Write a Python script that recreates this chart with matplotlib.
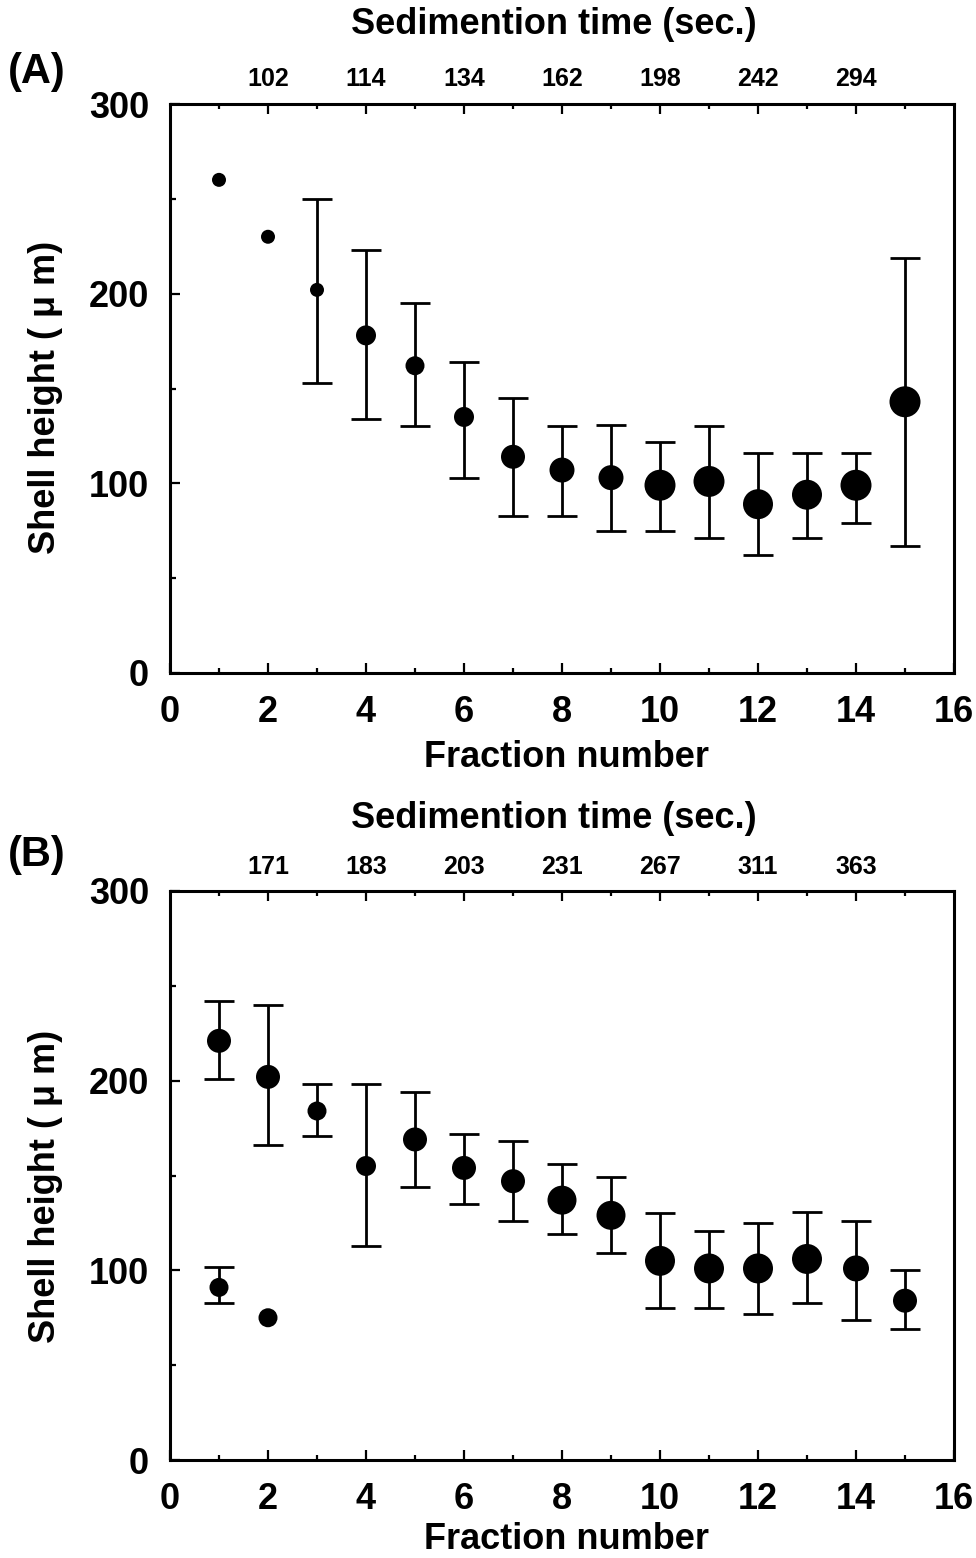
import matplotlib
matplotlib.use("Agg")
import matplotlib.pyplot as plt
import numpy as np
from matplotlib.ticker import FixedLocator, MultipleLocator

plt.rcParams['font.family'] = ['Liberation Sans', 'DejaVu Sans']
plt.rcParams['font.weight'] = 'bold'

# ---- data ----
FRACTIONS = list(range(1, 16))

# panel A
height_a = [260, 230, 202, 178, 162, 135, 114, 107, 103, 99, 101, 89, 94, 99, 143]
low_a = [np.nan, np.nan, 153, 134, 130, 103, 83, 83, 75, 75, 71, 62, 71, 79, 67]
high_a = [np.nan, np.nan, 250, 223, 195, 164, 145, 130, 131, 122, 130, 116, 116, 116, 219]
sed_time_a = ['102', '114', '134', '162', '198', '242', '294']

# panel B, main population
height_b = [221, 202, 184, 155, 169, 154, 147, 137, 129, 105, 101, 101, 106, 101, 84]
low_b = [201, 166, 171, 113, 144, 135, 126, 119, 109, 80, 80, 77, 83, 74, 69]
high_b = [242, 240, 198, 198, 194, 172, 168, 156, 149, 130, 121, 125, 131, 126, 100]
# panel B, second (small) population in fractions 1-2
frac_b2 = [1, 2]
height_b2 = [91, 75]
low_b2 = [83, np.nan]
high_b2 = [102, np.nan]
sed_time_b = ['171', '183', '203', '231', '267', '311', '363']

# marker diameters in pixels (style, varies per point)
dot_px_a = [14, 14, 14, 20, 19, 20, 24, 25, 25, 31, 31, 30, 30, 31, 31]
dot_px_b = [24, 24, 19, 20, 24, 24, 24, 29, 29, 30, 30, 30, 30, 26, 24]
dot_px_b2 = [19, 19]

DPI = 100
FS_BIG = 26
FS_TOP = 18


def plot_points(ax, x, y, lo, hi, dot_px):
    x = np.asarray(x, float)
    y = np.asarray(y, float)
    lo = np.asarray(lo, float)
    hi = np.asarray(hi, float)
    m = ~np.isnan(lo)
    ax.errorbar(x[m], y[m], yerr=[y[m] - lo[m], hi[m] - y[m]], fmt='none',
                ecolor='black', elinewidth=2.0, capsize=11, capthick=2.0, zorder=2)
    sizes = (np.asarray(dot_px) * 72 / DPI) ** 2
    ax.scatter(x, y, s=sizes, color='black', edgecolors='none', zorder=3)


def draw_panel(fig, rect, letter, letter_y, sed_labels, title_y, xlabel_y, ylabel_y, series):
    ax = fig.add_axes(rect)
    for s in series:
        plot_points(ax, *s)

    ax.set_xlim(0, 16)
    ax.set_ylim(0, 300)
    ax.xaxis.set_major_locator(MultipleLocator(2))
    ax.xaxis.set_minor_locator(MultipleLocator(1))
    ax.yaxis.set_major_locator(MultipleLocator(100))
    ax.yaxis.set_minor_locator(MultipleLocator(50))
    ax.tick_params(which='both', direction='in', top=False, right=False, width=1.6)
    ax.tick_params(axis='x', which='major', length=7.5, pad=16, labelsize=FS_BIG)
    ax.tick_params(axis='x', which='minor', length=3.5)
    ax.tick_params(axis='y', which='major', length=7.5, pad=15, labelsize=FS_BIG)
    ax.tick_params(axis='y', which='minor', length=4)
    for sp in ax.spines.values():
        sp.set_linewidth(2.2)

    ax.set_xlabel('Fraction number', fontsize=FS_BIG, fontweight='bold', va='center')
    ax.xaxis.set_label_coords(0.506, xlabel_y)
    ax.set_ylabel('Shell height ( μ m)', fontsize=FS_BIG, fontweight='bold', va='center')
    ax.yaxis.set_label_coords(-0.159, ylabel_y)

    top = ax.twiny()
    top.set_xlim(0, 16)
    top.xaxis.set_major_locator(FixedLocator(list(range(2, 15, 2))))
    top.xaxis.set_minor_locator(FixedLocator(list(range(1, 16, 2))))
    top.set_xticklabels(sed_labels)
    top.tick_params(which='both', direction='in', width=1.6)
    top.tick_params(which='major', length=7.5, pad=9, labelsize=FS_TOP)
    top.tick_params(which='minor', length=3.5)
    for sp in top.spines.values():
        sp.set_visible(False)
    top.set_xlabel('Sedimention time (sec.)', fontsize=FS_BIG, fontweight='bold', va='center')
    top.xaxis.set_label_coords(0.489, title_y)

    fig.text(8 / 976, letter_y, letter, fontsize=30, fontweight='bold',
             ha='left', va='center')
    return ax


fig = plt.figure(figsize=(9.76, 15.58), dpi=DPI)

W, H = 976, 1558
ax_w = 784 / W
ax_h = 569 / H

draw_panel(fig, [170 / W, 1 - 673 / H, ax_w, ax_h], '(A)', 1 - 72 / H, sed_time_a,
           1.139, -0.149, 0.485,
           [(FRACTIONS, height_a, low_a, high_a, dot_px_a)])

draw_panel(fig, [170 / W, 1 - 1460 / H, ax_w, ax_h], '(B)', 1 - 855 / H, sed_time_b,
           1.128, -0.139, 0.48,
           [(FRACTIONS, height_b, low_b, high_b, dot_px_b),
            (frac_b2, height_b2, low_b2, high_b2, dot_px_b2)])

fig.savefig('out.png', dpi=DPI)
